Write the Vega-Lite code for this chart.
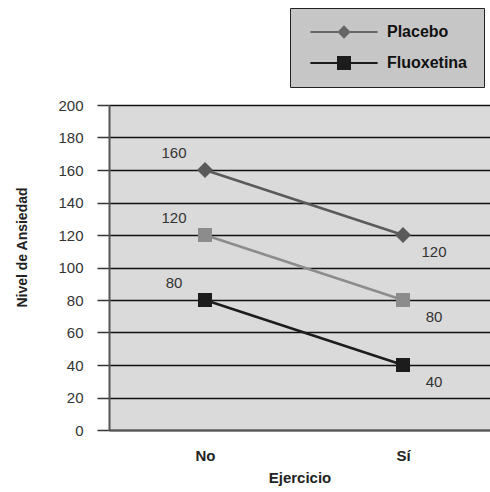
{
  "$schema": "https://vega.github.io/schema/vega-lite/v6.json",
  "autosize": {"type": "none"},
  "padding": {"left": 109, "top": 105, "right": 0, "bottom": 62},
  "width": 381,
  "height": 325,
  "background": "white",
  "config": {
    "font": "Liberation Sans",
    "view": {"fill": "#dadada", "stroke": null},
    "axis": {"labelFont": "Liberation Sans", "titleFont": "Liberation Sans"}
  },
  "data": {
    "values": [
      {"Grupo": "Placebo", "Ejercicio": "No", "Nivel": 160},
      {"Grupo": "Placebo", "Ejercicio": "Sí", "Nivel": 120},
      {"Grupo": "Serie 3", "Ejercicio": "No", "Nivel": 120},
      {"Grupo": "Serie 3", "Ejercicio": "Sí", "Nivel": 80},
      {"Grupo": "Fluoxetina", "Ejercicio": "No", "Nivel": 80},
      {"Grupo": "Fluoxetina", "Ejercicio": "Sí", "Nivel": 40}
    ]
  },
  "encoding": {
    "x": {
      "field": "Ejercicio", "type": "nominal", "sort": ["No", "Sí"],
      "scale": {"type": "point", "padding": 0.4621, "align": 0.5246},
      "axis": {
        "title": "Ejercicio", "labelAngle": 0, "ticks": false,
        "labelFontWeight": "bold", "labelFontSize": 15, "labelColor": "#222",
        "labelPadding": 18, "domainColor": "#555", "domainWidth": 2,
        "titleFontWeight": "bold", "titleFontSize": 15, "titleColor": "#222",
        "titlePadding": 7
      }
    },
    "y": {
      "field": "Nivel", "type": "quantitative",
      "scale": {"domain": [0, 200]},
      "axis": {
        "title": "Nivel de Ansiedad", "values": [0,20,40,60,80,100,120,140,160,180,200],
        "grid": true, "gridColor": "#111", "gridWidth": 1.5,
        "tickSize": 12, "tickColor": "#333", "tickWidth": 1.5,
        "labelFontSize": 15, "labelColor": "#333", "labelPadding": 14,
        "domainColor": "#555", "domainWidth": 2,
        "titleFontWeight": "bold", "titleFontSize": 14, "titleColor": "#222",
        "titleX": -87, "titleY": 142, "titleAngle": -90, "titleBaseline": "middle", "titleAlign": "center"
      }
    }
  },
  "layer": [
    {
      "mark": {"type": "line", "strokeWidth": 2.5},
      "encoding": {
        "detail": {"field": "Grupo"},
        "color": {"field": "Grupo", "type": "nominal", "legend": null,
          "scale": {"domain": ["Placebo", "Serie 3", "Fluoxetina"], "range": ["#5a5a5a", "#8c8c8c", "#1c1c1c"]}}
      }
    },
    {
      "transform": [{"filter": "datum.Grupo == 'Placebo'"}],
      "mark": {"type": "point", "filled": true, "opacity": 1, "shape": "diamond", "size": 256},
      "encoding": {
        "color": {"field": "Grupo", "type": "nominal", "legend": null}
      }
    },
    {
      "transform": [{"filter": "datum.Grupo != 'Placebo'"}],
      "mark": {"type": "point", "filled": true, "opacity": 1, "shape": "square", "size": 196},
      "encoding": {
        "color": {"field": "Grupo", "type": "nominal", "legend": null}
      }
    },
    {
      "transform": [{"filter": "datum.Ejercicio == 'No'"}],
      "mark": {"type": "text", "dx": -31, "dy": -17, "fontSize": 15, "color": "#333", "font": "Liberation Sans"},
      "encoding": {"text": {"field": "Nivel", "type": "quantitative"}}
    },
    {
      "transform": [{"filter": "datum.Ejercicio == 'Sí'"}],
      "mark": {"type": "text", "dx": 31, "dy": 17, "fontSize": 15, "color": "#333", "font": "Liberation Sans"},
      "encoding": {"text": {"field": "Nivel", "type": "quantitative"}}
    },
    {
      "transform": [{"filter": "datum.Grupo != 'Serie 3'"}],
      "mark": {"type": "point", "filled": true, "opacity": 0},
      "encoding": {
        "shape": {"field": "Grupo", "type": "nominal",
          "scale": {"domain": ["Placebo", "Fluoxetina"], "range": ["M-4.8,-0.15H4.8V0.15H-4.8Z M0,-0.95L0.95,0L0,0.95L-0.95,0Z", "M-4.8,-0.15H4.8V0.15H-4.8Z M-1,-1H1V1H-1Z"]},
          "legend": {
            "title": null, "orient": "none", "legendX": 181, "legendY": -97,
            "padding": 16, "fillColor": "#c6c6c6", "strokeColor": "#222",
            "symbolSize": 196, "symbolOffset": 30, "symbolOpacity": 1, "symbolStrokeWidth": 0,
            "labelOffset": 35, "labelFontSize": 16, "labelFontWeight": "bold", "labelColor": "#111",
            "labelFont": "Liberation Sans", "rowPadding": 15
          }
        },
        "fill": {"field": "Grupo", "type": "nominal",
          "scale": {"domain": ["Placebo", "Fluoxetina"], "range": ["#666666", "#1c1c1c"]},
          "legend": {
            "title": null, "orient": "none", "legendX": 181, "legendY": -97,
            "padding": 16, "fillColor": "#c6c6c6", "strokeColor": "#222",
            "symbolSize": 196, "symbolOffset": 30, "symbolOpacity": 1, "symbolStrokeWidth": 0,
            "labelOffset": 35, "labelFontSize": 16, "labelFontWeight": "bold", "labelColor": "#111",
            "labelFont": "Liberation Sans", "rowPadding": 15
          }
        }
      }
    }
  ]
}
